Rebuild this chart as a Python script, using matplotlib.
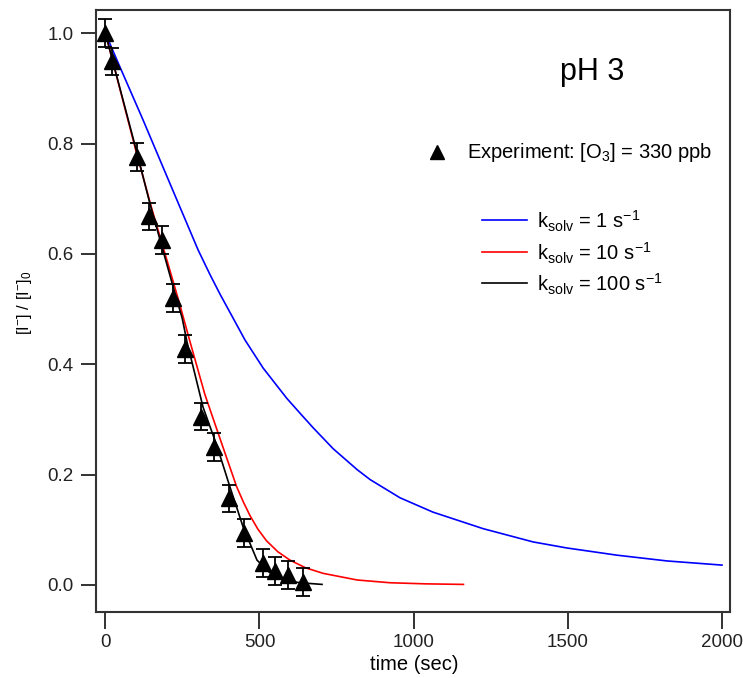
import matplotlib
matplotlib.use("Agg")
import matplotlib.pyplot as plt
from matplotlib.lines import Line2D

plt.rcParams['font.family'] = ['Liberation Sans', 'DejaVu Sans']
plt.rcParams['mathtext.fontset'] = 'custom'
plt.rcParams['mathtext.rm'] = 'Liberation Sans'
plt.rcParams['mathtext.it'] = 'Liberation Sans:italic'

# Experimental data
exp_t = [0, 20, 102, 143, 183, 220, 258, 310, 352, 402, 449, 512, 550, 593, 642]
exp_y = [1.0, 0.949, 0.776, 0.668, 0.625, 0.520, 0.428, 0.305, 0.250, 0.157,
         0.094, 0.040, 0.025, 0.018, 0.005]
exp_err = [0.025] * 15

# Model: k_solv = 1 s^-1
blue_t = [0, 47, 122, 200, 301, 339, 372, 414, 453, 512, 589, 632, 674, 739,
          817, 859, 956, 1063, 1226, 1388, 1498, 1660, 1823, 2001]
blue_y = [1.0, 0.939, 0.843, 0.740, 0.607, 0.563, 0.527, 0.484, 0.444, 0.393,
          0.338, 0.311, 0.285, 0.247, 0.209, 0.191, 0.158, 0.132, 0.102, 0.078,
          0.067, 0.054, 0.0435, 0.036]

# Model: k_solv = 10 s^-1
red_t = [0, 100, 150, 200, 237, 275, 323, 377, 426, 448, 469, 495, 523, 560,
         599, 650, 707, 817, 924, 1040, 1162]
red_y = [1.0, 0.785, 0.683, 0.588, 0.517, 0.440, 0.345, 0.257, 0.178, 0.150,
         0.126, 0.101, 0.080, 0.060, 0.045, 0.031, 0.021, 0.009, 0.004, 0.002,
         0.001]

# Model: k_solv = 100 s^-1
black_t = [0, 103, 145, 184, 226, 249, 265, 317, 362, 404, 447, 492, 534, 576,
           632, 703]
black_y = [1.0, 0.782, 0.690, 0.612, 0.528, 0.484, 0.440, 0.322, 0.252, 0.178,
           0.105, 0.045, 0.022, 0.009, 0.004, 0.001]

x_ticks = [0, 500, 1000, 1500, 2000]
y_ticks = [0.0, 0.2, 0.4, 0.6, 0.8, 1.0]

W, H = 743, 678
fig = plt.figure(figsize=(W / 100, H / 100), dpi=100)
ax = fig.add_axes([96 / W, 1 - 612 / H, (730 - 96) / W, (612 - 10) / H])

ax.plot(blue_t, blue_y, color='#0000ff', lw=1.2)
ax.plot(red_t, red_y, color='#ff0000', lw=1.2)
ax.plot(black_t, black_y, color='black', lw=1.2)
ax.errorbar(exp_t, exp_y, yerr=exp_err, fmt='^', color='black', ms=11,
            ecolor='black', elinewidth=1.3, capsize=5, capthick=1.3, zorder=5)

ax.set_xlim(-30.5, 2027)
ax.set_ylim(-0.049, 1.042)
ax.set_xticks(x_ticks)
ax.set_xticklabels([str(v) for v in x_ticks])
ax.set_yticks(y_ticks)
ax.set_yticklabels([f"{v:.1f}" for v in y_ticks])
ax.tick_params(direction='out', length=11, width=1.3, labelsize=13.5, pad=5,
               colors='#222222')
ax.tick_params(axis='x', length=12, pad=3.5)
for s in ax.spines.values():
    s.set_linewidth(1.5)
    s.set_color('#333333')

fig.text(414 / W, 1 - 665 / H, 'time (sec)', ha='center', va='center', fontsize=14.5)
fig.text(24 / W, 1 - 303 / H, r'[I$^{-}$] / [I$^{-}$]$_0$', ha='center', va='center',
         rotation=90, fontsize=12)

fig.text(560 / W, 1 - 72 / H, 'pH 3', ha='left', va='center', fontsize=22)

# Legend
fig.add_artist(Line2D([437 / W], [1 - 152 / H], marker='^', color='black', ms=10,
                      transform=fig.transFigure))
fig.text(467 / W, 1 - 153 / H, r'Experiment: [O$_3$] = 330 ppb', ha='left',
         va='center', fontsize=14.5)
labels = [r'k$_{\mathrm{solv}}$ = 1 s$^{\mathrm{-1}}$',
          r'k$_{\mathrm{solv}}$ = 10 s$^{\mathrm{-1}}$',
          r'k$_{\mathrm{solv}}$ = 100 s$^{\mathrm{-1}}$']
colors = ['#0000ff', '#ff0000', 'black']
ys = [220, 252, 283]
for lab, c, yy in zip(labels, colors, ys):
    fig.add_artist(Line2D([482 / W, 527 / W], [1 - yy / H, 1 - yy / H], color=c,
                          lw=1.2, transform=fig.transFigure))
    fig.text(537 / W, 1 - (yy + 1) / H, lab, ha='left', va='center', fontsize=14.5)

fig.savefig('out.png', dpi=100)
